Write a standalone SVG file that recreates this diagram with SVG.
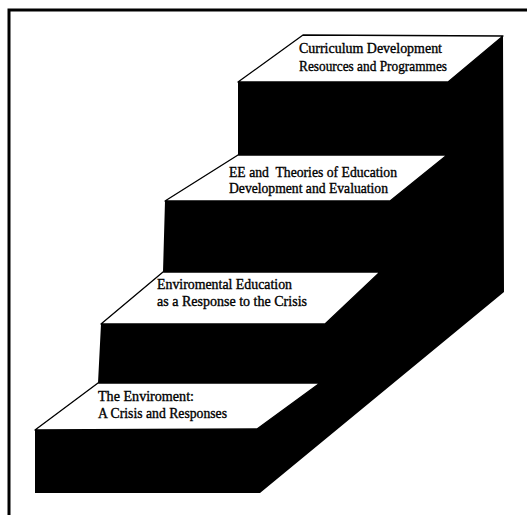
<svg xmlns="http://www.w3.org/2000/svg" width="527" height="515" viewBox="0 0 527 515">
<style>
.face{fill:#ffffff;stroke:#000000;stroke-width:1.3;stroke-linejoin:round}
.solid{fill:#000000;stroke:none}
.lbl{font-family:"Liberation Serif","Times New Roman",serif;font-size:14px;font-weight:normal;fill:#000000;stroke:#000000;stroke-width:0.35;white-space:pre}
.frame{stroke:#000000;stroke-width:3;fill:none}
</style>
<rect x="0" y="0" width="527" height="515" fill="#ffffff"/>
<g id="frame">
<path class="frame" d="M9,515 L9,10 L527,10"/>
</g>
<g id="staircase-body">
<polygon class="solid" points="35,493 35,430 98,383 101,324 163,272 165,201 238,155 238,82 303,35 503,36 504,292 260,493"/>
</g>
<g id="step-4">
<polygon class="face" points="98,383 320,383 257,429 35,430"/>
<text class="lbl" x="98" y="401" textLength="96" lengthAdjust="spacingAndGlyphs">The Enviroment:</text>
<text class="lbl" x="98" y="418" textLength="129" lengthAdjust="spacingAndGlyphs">A Crisis and Responses</text>
</g>
<g id="step-3">
<polygon class="face" points="163,272 380,272 325,324 101,324"/>
<text class="lbl" x="157" y="289" textLength="135" lengthAdjust="spacingAndGlyphs">Enviromental Education</text>
<text class="lbl" x="157" y="306" textLength="150" lengthAdjust="spacingAndGlyphs">as a Response to the Crisis</text>
</g>
<g id="step-2">
<polygon class="face" points="238,155 447,155 390,201 165,201"/>
<text class="lbl" x="229" y="177" textLength="168" lengthAdjust="spacingAndGlyphs">EE and  Theories of Education</text>
<text class="lbl" x="229" y="193" textLength="159" lengthAdjust="spacingAndGlyphs">Development and Evaluation</text>
</g>
<g id="step-1">
<polygon class="face" points="303,35 503,36 448,82 238,82"/>
<text class="lbl" x="299" y="53" textLength="143" lengthAdjust="spacingAndGlyphs">Curriculum Development</text>
<text class="lbl" x="299" y="71" textLength="148" lengthAdjust="spacingAndGlyphs">Resources and Programmes</text>
</g>
</svg>
